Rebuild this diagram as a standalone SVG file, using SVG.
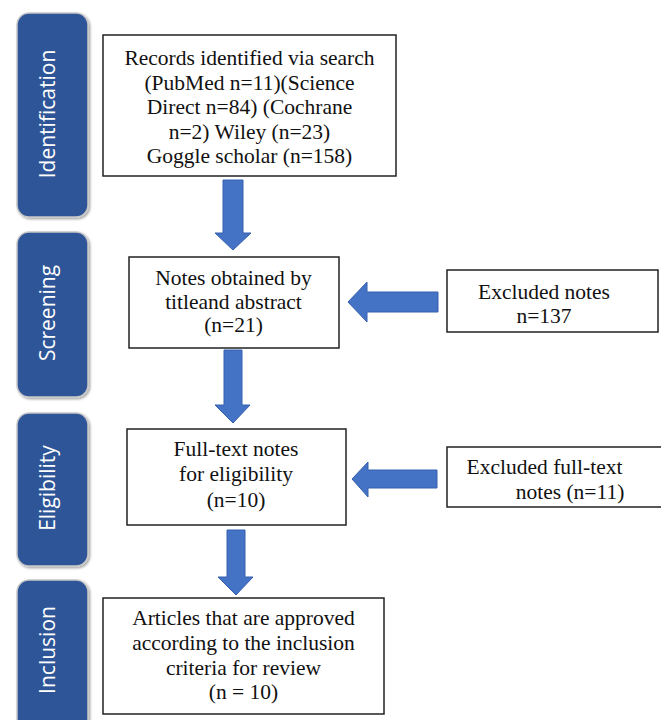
<svg xmlns="http://www.w3.org/2000/svg" width="661" height="720" viewBox="0 0 661 720">
<style>
.bar{fill:#2F5597;stroke:#C8C8C8;stroke-width:1.5}
.bt{font-family:"Open Sans","Noto Sans",sans-serif;font-size:21px;fill:#FFFFFF;text-anchor:middle}
.box{fill:#FFFFFF;stroke:#222222;stroke-width:1.5}
.t{font-family:"Liberation Serif","Times New Roman",serif;font-size:21.5px;fill:#111111;text-anchor:middle}
.arr{fill:#4472C4;stroke:#3560AE;stroke-width:1}
</style>
<defs>
<filter id="sh" x="-20%" y="-20%" width="140%" height="140%">
<feDropShadow dx="1.5" dy="1.5" stdDeviation="1.2" flood-color="#000000" flood-opacity="0.35"/>
</filter>
</defs>
<rect width="661" height="720" fill="#FFFFFF"/>
<g id="stage-identification">
<rect class="bar" x="17" y="13" width="71" height="204" rx="12" filter="url(#sh)"/>
<text class="bt" transform="translate(55,114) rotate(-90)">Identification</text>
</g>
<g id="stage-screening">
<rect class="bar" x="17" y="232" width="71" height="165" rx="12" filter="url(#sh)"/>
<text class="bt" transform="translate(55,313) rotate(-90)">Screening</text>
</g>
<g id="stage-eligibility">
<rect class="bar" x="17" y="413" width="71" height="153" rx="12" filter="url(#sh)"/>
<text class="bt" transform="translate(55,488) rotate(-90)">Eligibility</text>
</g>
<g id="stage-inclusion">
<rect class="bar" x="17" y="580" width="71" height="160" rx="12" filter="url(#sh)"/>
<text class="bt" transform="translate(55,650) rotate(-90)">Inclusion</text>
</g>
<g id="records">
<rect class="box" x="103" y="35" width="293" height="141"/>
<text class="t" x="249.5" y="65">Records identified via search</text>
<text class="t" x="249.5" y="89.5">(PubMed n=11)(Science</text>
<text class="t" x="249.5" y="114">Direct n=84) (Cochrane</text>
<text class="t" x="249.5" y="138.5">n=2) Wiley (n=23)</text>
<text class="t" x="249.5" y="163">Goggle scholar (n=158)</text>
</g>
<g id="screened">
<rect class="box" x="129" y="257" width="210" height="91"/>
<text class="t" x="233.5" y="285">Notes obtained by</text>
<text class="t" x="233.5" y="309">titleand abstract</text>
<text class="t" x="233.5" y="332">(n=21)</text>
</g>
<g id="excluded-notes">
<rect class="box" x="447" y="270" width="211" height="62"/>
<text class="t" x="544" y="299">Excluded notes</text>
<text class="t" x="544" y="323">n=137</text>
</g>
<g id="fulltext">
<rect class="box" x="127" y="429" width="219" height="96"/>
<text class="t" x="236" y="456">Full-text notes</text>
<text class="t" x="236" y="481">for eligibility</text>
<text class="t" x="236" y="507">(n=10)</text>
</g>
<g id="excluded-fulltext">
<rect class="box" x="447" y="447" width="216" height="60"/>
<text class="t" x="544.5" y="474">Excluded full-text</text>
<text class="t" x="570" y="499">notes (n=11)</text>
</g>
<g id="included">
<rect class="box" x="103" y="598" width="281" height="116"/>
<text class="t" x="243.5" y="625">Articles that are approved</text>
<text class="t" x="243.5" y="650">according to the inclusion</text>
<text class="t" x="243.5" y="675">criteria for review</text>
<text class="t" x="243.5" y="699">(n = 10)</text>
</g>
<g id="connectors">
<polygon class="arr" points="223,180 243,180 243,233 251,233 233,250 215,233 223,233"/>
<polygon class="arr" points="224,350 242,350 242,405 250,405 233,423 215,405 224,405"/>
<polygon class="arr" points="227,530 245,530 245,577 253,577 236,595 218,577 227,577"/>
<polygon class="arr" points="438,292 438,312 367,312 367,322 348,302 367,282 367,292"/>
<polygon class="arr" points="437,470 437,488 368,488 368,497 352,479 368,462 368,470"/>
</g>
</svg>
